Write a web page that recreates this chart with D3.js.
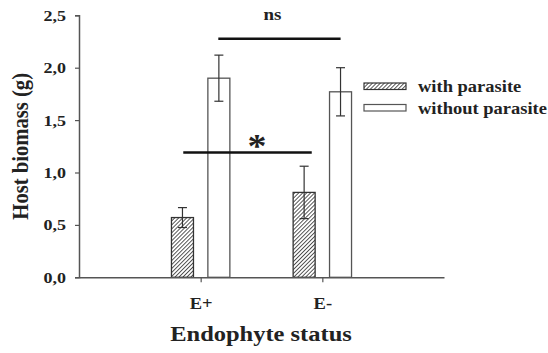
<!DOCTYPE html>
<html lang="en">
<head>
    <meta charset="UTF-8">
    <title>Host biomass by endophyte status</title>
    <script src="https://d3js.org/d3.v7.min.js"></script>
    <style>
        body { margin: 0; background: #fff; }
        text { font-family: "Liberation Serif", "Times New Roman", serif; font-weight: bold; fill: #222; }
    </style>
</head>
<body>
    <svg width="548" height="353" id="chart"></svg>

    <script>
        // data
        const categories = ["E+", "E-"];
        const seriesNames = ["with parasite", "without parasite"];
        const withParasite = [0.57, 0.81];
        const withParasiteErr = [0.095, 0.25];
        const withoutParasite = [1.90, 1.77];
        const withoutParasiteErr = [0.22, 0.23];
        const yTicks = [0, 0.5, 1.0, 1.5, 2.0, 2.5];
        // significance bars: x in category units, y in grams
        const sigBars = [
            { x1: 1.145, x2: 2.15, y: 2.277, label: "ns" },
            { x1: 0.857, x2: 1.913, y: 1.19, label: "*" }
        ];

        const svg = d3.select("#chart");

        const x = d3.scaleLinear().domain([0, 3]).range([79, 444]);
        const y = d3.scaleLinear().domain([0, 2.5]).range([277.3, 15.3]);

        const barW = 22;
        const barOffset = 18.2;
        const squash = 0.86; // the figure's text is flattened vertically

        // hatch pattern for "with parasite"
        const defs = svg.append("defs");
        const pat = defs.append("pattern")
            .attr("id", "hatch")
            .attr("patternUnits", "userSpaceOnUse")
            .attr("width", 2.8)
            .attr("height", 2.8)
            .attr("patternTransform", "rotate(45)");
        pat.append("rect").attr("width", 2.8).attr("height", 2.8).attr("fill", "#fff");
        pat.append("line")
            .attr("x1", 0).attr("y1", 0).attr("x2", 0).attr("y2", 2.8)
            .attr("stroke", "#222").attr("stroke-width", 1.5);

        const bars = [];
        categories.forEach((c, i) => {
            bars.push({ cat: i + 1, side: -1, v: withParasite[i], e: withParasiteErr[i], fill: "url(#hatch)", stroke: "#333" });
            bars.push({ cat: i + 1, side: 1, v: withoutParasite[i], e: withoutParasiteErr[i], fill: "#fff", stroke: "#555" });
        });

        // bars
        svg.selectAll("rect.bar")
            .data(bars)
            .enter()
            .append("rect")
            .attr("class", "bar")
            .attr("x", d => x(d.cat) + d.side * barOffset - barW / 2)
            .attr("y", d => y(d.v))
            .attr("width", barW)
            .attr("height", d => y(0) - y(d.v))
            .attr("fill", d => d.fill)
            .attr("stroke", d => d.stroke)
            .attr("stroke-width", 1.3);

        // error bars
        const err = svg.append("g").attr("stroke", "#333").attr("stroke-width", 1.2).attr("fill", "none");
        bars.forEach(d => {
            const cx = x(d.cat) + d.side * barOffset;
            err.append("line").attr("x1", cx).attr("x2", cx).attr("y1", y(d.v - d.e)).attr("y2", y(d.v + d.e));
            err.append("line").attr("x1", cx - 4.5).attr("x2", cx + 4.5).attr("y1", y(d.v + d.e)).attr("y2", y(d.v + d.e));
            err.append("line").attr("x1", cx - 4.5).attr("x2", cx + 4.5).attr("y1", y(d.v - d.e)).attr("y2", y(d.v - d.e));
        });

        // y axis
        const yAxis = svg.append("g")
            .attr("transform", `translate(${x(0)},0)`)
            .call(d3.axisLeft(y).tickValues(yTicks).tickSize(4).tickPadding(9)
                .tickFormat(d => d3.format(".1f")(d).replace(".", ",")));
        yAxis.select(".domain").attr("stroke", "#555").attr("stroke-width", 1.5);
        yAxis.selectAll(".tick line").attr("stroke", "#555").attr("stroke-width", 1.2);
        yAxis.selectAll(".tick text")
            .attr("font-family", "Liberation Serif")
            .attr("font-size", 18)
            .attr("font-weight", "bold")
            .attr("fill", "#222")
            .attr("transform", `scale(1,${squash})`);

        // x axis
        const xAxis = svg.append("g")
            .attr("transform", `translate(0,${y(0)})`)
            .call(d3.axisBottom(x).tickValues([1, 2]).tickSize(5).tickSizeOuter(0).tickPadding(18.5)
                .tickFormat(d => categories[d - 1]));
        xAxis.select(".domain").attr("stroke", "#555").attr("stroke-width", 1.5);
        xAxis.selectAll(".tick line").attr("stroke", "#555").attr("stroke-width", 1.2);
        xAxis.selectAll(".tick text")
            .attr("font-family", "Liberation Serif")
            .attr("font-size", 18.5)
            .attr("font-weight", "bold")
            .attr("fill", "#222")
            .attr("transform", `scale(1,${squash})`);

        // significance lines
        svg.selectAll("line.sig")
            .data(sigBars)
            .enter()
            .append("line")
            .attr("class", "sig")
            .attr("x1", d => x(d.x1))
            .attr("x2", d => x(d.x2))
            .attr("y1", d => y(d.y))
            .attr("y2", d => y(d.y))
            .attr("stroke", "#111")
            .attr("stroke-width", 2.5);

        svg.append("text")
            .attr("transform", `translate(${x((sigBars[0].x1 + sigBars[0].x2) / 2) - 7},20) scale(1,${squash})`)
            .attr("text-anchor", "middle")
            .attr("font-size", 19)
            .text(sigBars[0].label);

        svg.append("text")
            .attr("transform", `translate(257,157) scale(1,${squash})`)
            .attr("text-anchor", "middle")
            .attr("font-size", 38)
            .text(sigBars[1].label);

        // legend
        const legend = svg.append("g").attr("transform", "translate(364,83)");
        seriesNames.forEach((name, i) => {
            const g = legend.append("g").attr("transform", `translate(0,${i * 21.5})`);
            g.append("rect")
                .attr("width", 42).attr("height", 6.5)
                .attr("fill", i === 0 ? "url(#hatch)" : "#fff")
                .attr("stroke", i === 0 ? "#333" : "#555").attr("stroke-width", 1.2);
            g.append("text")
                .attr("transform", `translate(54,9) scale(1,${squash})`)
                .attr("font-size", 18.5)
                .text(name);
        });

        // axis titles
        svg.append("text")
            .attr("transform", `translate(28,${(y(0) + y(2.5)) / 2}) rotate(-90) scale(${squash},1)`)
            .attr("text-anchor", "middle")
            .attr("font-size", 24)
            .text("Host biomass (g)");

        svg.append("text")
            .attr("transform", `translate(261,341) scale(1,${squash})`)
            .attr("text-anchor", "middle")
            .attr("font-size", 24.5)
            .text("Endophyte status");
    </script>
</body>
</html>
